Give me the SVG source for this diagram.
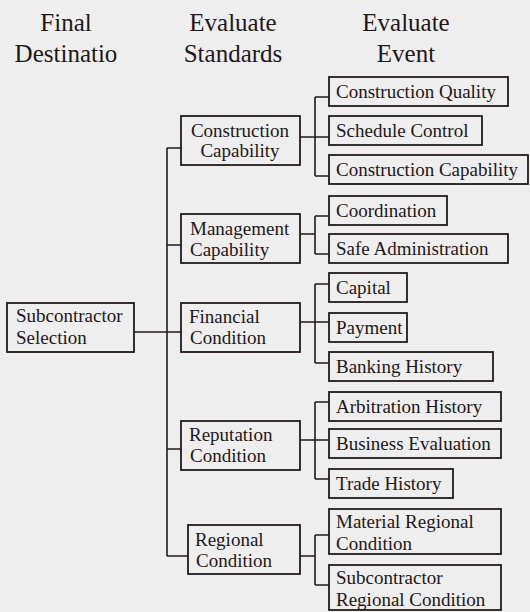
<svg xmlns="http://www.w3.org/2000/svg" width="530" height="612" viewBox="0 0 530 612">
<style>
.bg{fill:#eeeeee}
.box{fill:none;stroke:#221a1a;stroke-width:1.8}
.c{fill:none;stroke:#221a1a;stroke-width:1.6}
text{font-family:"Liberation Serif","Times New Roman",serif;fill:#1e1818}
.h{font-size:25px;text-anchor:middle}
.t{font-size:19px}
.m{text-anchor:middle}
</style>
<rect class="bg" x="0" y="0" width="530" height="612"/>
<g id="headers">
<text class="h" x="66" y="31">Final</text>
<text class="h" x="66" y="62">Destinatio</text>
<text class="h" x="233" y="31">Evaluate</text>
<text class="h" x="233" y="62">Standards</text>
<text class="h" x="406" y="31">Evaluate</text>
<text class="h" x="406" y="62">Event</text>
</g>
<g id="connectors">
<path class="c" d="M134 332H181M167 148V556M167 148H181M167 245H181M167 449H181M167 556H188"/>
<path class="c" d="M300 137H329M315 97V176M315 97H329M315 176H329"/>
<path class="c" d="M300 234H315M315 216V254M315 216H329M315 254H329"/>
<path class="c" d="M300 322H329M315 284V363M315 284H329M315 363H329"/>
<path class="c" d="M300 440H329M315 402V479M315 402H329M315 479H329"/>
<path class="c" d="M300 556H315M315 535V585M315 535H329M315 585H329"/>
</g>
<g id="root"><rect class="box" x="7" y="303" width="127" height="49"/><text class="t" x="16" y="322">Subcontractor</text><text class="t" x="16" y="344">Selection</text></g>
<g id="construction-capability"><rect class="box" x="181" y="116" width="119" height="49"/><text class="t m" x="240" y="137">Construction</text><text class="t m" x="240" y="157">Capability</text></g>
<g id="management-capability"><rect class="box" x="181" y="214" width="119" height="49"/><text class="t" x="190" y="235">Management</text><text class="t" x="190" y="256">Capability</text></g>
<g id="financial-condition"><rect class="box" x="181" y="303" width="119" height="49"/><text class="t" x="189" y="323">Financial</text><text class="t" x="190" y="344">Condition</text></g>
<g id="reputation-condition"><rect class="box" x="181" y="421" width="119" height="49"/><text class="t" x="189" y="441">Reputation</text><text class="t" x="190" y="462">Condition</text></g>
<g id="regional-condition"><rect class="box" x="188" y="525" width="112" height="49"/><text class="t" x="195" y="546">Regional</text><text class="t" x="196" y="567">Condition</text></g>
<g id="construction-quality"><rect class="box" x="329" y="77" width="179" height="29"/><text class="t" x="336" y="98">Construction Quality</text></g>
<g id="schedule-control"><rect class="box" x="329" y="116" width="153" height="29"/><text class="t" x="336" y="137">Schedule Control</text></g>
<g id="construction-capability-event"><rect class="box" x="329" y="155" width="199" height="29"/><text class="t" x="336" y="176">Construction Capability</text></g>
<g id="coordination"><rect class="box" x="329" y="196" width="118" height="29"/><text class="t" x="336" y="217">Coordination</text></g>
<g id="safe-administration"><rect class="box" x="329" y="234" width="179" height="29"/><text class="t" x="336" y="255">Safe Administration</text></g>
<g id="capital"><rect class="box" x="329" y="273" width="78" height="29"/><text class="t" x="336" y="294">Capital</text></g>
<g id="payment"><rect class="box" x="329" y="313" width="78" height="29"/><text class="t" x="336" y="334">Payment</text></g>
<g id="banking-history"><rect class="box" x="329" y="352" width="164" height="29"/><text class="t" x="336" y="373">Banking History</text></g>
<g id="arbitration-history"><rect class="box" x="329" y="392" width="172" height="29"/><text class="t" x="336" y="413">Arbitration History</text></g>
<g id="business-evaluation"><rect class="box" x="329" y="429" width="172" height="29"/><text class="t" x="336" y="450">Business Evaluation</text></g>
<g id="trade-history"><rect class="box" x="329" y="469" width="124" height="29"/><text class="t" x="336" y="490">Trade History</text></g>
<g id="material-regional-condition"><rect class="box" x="329" y="509" width="172" height="45"/><text class="t" x="336" y="528">Material Regional</text><text class="t" x="336" y="550">Condition</text></g>
<g id="subcontractor-regional-condition"><rect class="box" x="329" y="565" width="172" height="45"/><text class="t" x="336" y="584">Subcontractor</text><text class="t" x="336" y="606">Regional Condition</text></g>
</svg>
